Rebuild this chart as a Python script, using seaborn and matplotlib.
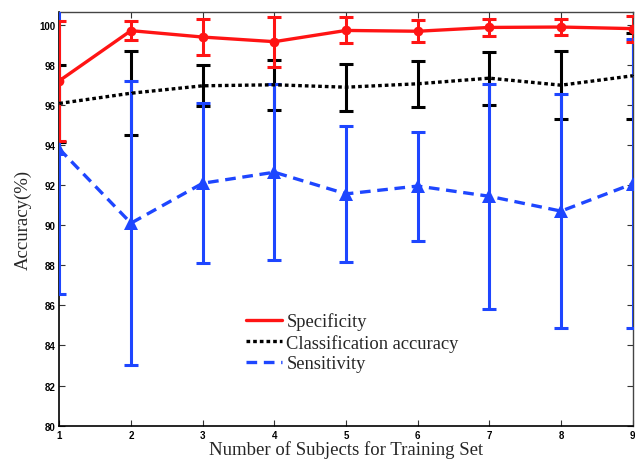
import numpy as np
import pandas as pd
import seaborn as sns
import matplotlib
matplotlib.use("Agg")
import matplotlib.pyplot as plt

# values
subjects = [1, 2, 3, 4, 5, 6, 7, 8, 9]
specificity = [97.2, 99.7, 99.38, 99.15, 99.71, 99.67, 99.86, 99.88, 99.8]
specificity_err = [3.0, 0.47, 0.9, 1.25, 0.65, 0.55, 0.42, 0.4, 0.65]
accuracy = [96.07, 96.58, 96.95, 97.0, 96.88, 97.05, 97.33, 96.98, 97.45]
accuracy_err = [1.9, 2.08, 1.03, 1.25, 1.18, 1.15, 1.32, 1.68, 2.15]
sensitivity = [93.8, 90.1, 92.09, 92.64, 91.56, 91.95, 91.44, 90.7, 92.06]
sensitivity_err = [7.25, 7.08, 4.0, 4.4, 3.4, 2.72, 5.6, 5.82, 7.2]

red = "#ff1414"
blue = "#1e46ff"
black = "black"

df = pd.DataFrame({
    "subjects": subjects * 3,
    "value": specificity + accuracy + sensitivity,
    "metric": ["Specificity"] * 9 + ["Classification accuracy"] * 9 + ["Sensitivity"] * 9,
})

sns.set_theme(style="ticks")
plt.rcParams["font.family"] = ["Liberation Serif", "DejaVu Serif"]

fig = plt.figure(figsize=(6.35, 4.64), dpi=100)
ax = fig.add_axes([0.0934, 0.0804, 0.903, 0.8916])

# error bars first (black, blue, red)
ax.errorbar(subjects, accuracy, yerr=accuracy_err, fmt="none", ecolor=black,
            elinewidth=2.2, capsize=5, capthick=2.2, zorder=2)
ax.errorbar(subjects, sensitivity, yerr=sensitivity_err, fmt="none", ecolor=blue,
            elinewidth=2.2, capsize=5, capthick=2.2, zorder=3)
ax.errorbar(subjects, specificity, yerr=specificity_err, fmt="none", ecolor=red,
            elinewidth=2.2, capsize=5, capthick=2.2, zorder=4)

sns.lineplot(data=df, x="subjects", y="value", hue="metric", style="metric",
             hue_order=["Specificity", "Classification accuracy", "Sensitivity"],
             style_order=["Specificity", "Classification accuracy", "Sensitivity"],
             palette=[red, black, blue],
             dashes={"Specificity": "", "Classification accuracy": (1.1, 0.9),
                     "Sensitivity": (3.2, 2.0)},
             markers={"Specificity": "o", "Classification accuracy": ",",
                      "Sensitivity": "^"},
             markersize=7, markeredgewidth=0, linewidth=2.4, ax=ax, zorder=5)

# triangles are a bit bigger than the circles in the original
for ln in ax.lines:
    if ln.get_marker() == "^":
        ln.set_markersize(9.5)

ax.set_xlim(1, 9)
ax.set_ylim(80, 100.63)
ax.set_xticks(subjects)
ax.set_yticks(np.arange(80, 101, 2))
ax.tick_params(direction="in", length=4, width=0.8, top=True, right=True,
               labelsize=7, pad=3, colors="#333333", labelcolor="black")
for lab in ax.get_xticklabels() + ax.get_yticklabels():
    lab.set_fontfamily("Liberation Sans")
    lab.set_fontweight("bold")

for side in ["left", "bottom"]:
    ax.spines[side].set_color("black")
    ax.spines[side].set_linewidth(1.2)
for side in ["top", "right"]:
    ax.spines[side].set_color("#444444")
    ax.spines[side].set_linewidth(1.0)

ax.set_xlabel("Number of Subjects for Training Set", fontsize=13.5, labelpad=0)
ax.set_ylabel("Accuracy(%)", fontsize=13.5, labelpad=5)

handles, labels = ax.get_legend_handles_labels()
for h in handles:
    h.set_marker("")
leg = ax.legend(handles, labels, loc="lower left", bbox_to_anchor=(0.313, 0.112),
                frameon=False, fontsize=13.3, handlelength=1.95, handletextpad=0.22,
                labelspacing=0.18, borderaxespad=0)

fig.savefig("out.png", dpi=100)
